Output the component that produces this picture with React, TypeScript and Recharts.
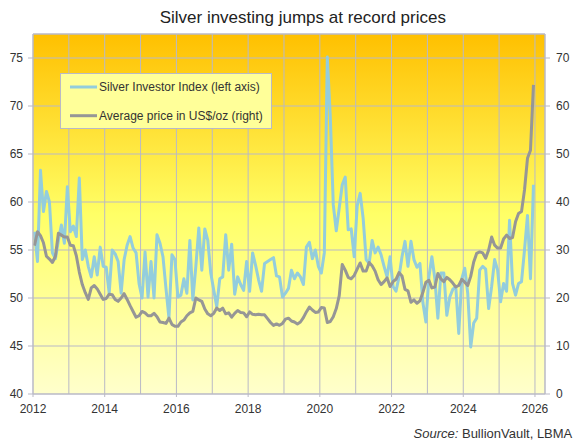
import React from 'react';
import { LineChart, Line, XAxis, YAxis, CartesianGrid, Legend, ReferenceLine } from 'recharts';

const TITLE = 'Silver investing jumps at record prices';
const SERIES_SII = 'Silver Investor Index (left axis)';
const SERIES_PRICE = 'Average price in US$/oz (right)';
const SOURCE_LABEL = 'Source:';
const SOURCE_TEXT = ' BullionVault, LBMA';

const START_YEAR = 2012;
const X_MAX = 2026.28;
const YEAR_TICKS = [2012, 2013, 2014, 2015, 2016, 2017, 2018, 2019, 2020, 2021, 2022, 2023, 2024, 2025, 2026];
const LEFT_TICKS = [40, 45, 50, 55, 60, 65, 70, 75];
const LEFT_DOMAIN = [40, 77.5];
const RIGHT_TICKS = [0, 10, 20, 30, 40, 50, 60, 70];
const RIGHT_DOMAIN = [0, 75];

// Silver Investor Index, monthly Jan 2012 - Dec 2025 (left axis)
const SII = [
  56.9, 53.8, 63.3, 59.0, 61.1, 60.0, 54.7, 54.1, 56.0, 57.6, 55.7, 61.6,
  56.9, 57.5, 56.4, 62.5, 54.0, 55.0, 53.3, 52.2, 54.3, 52.4, 55.3, 53.3,
  53.2, 50.5, 55.0, 54.6, 53.8, 50.5, 54.0, 55.5, 56.4, 55.2, 54.7, 51.5,
  50.0, 54.8, 50.1, 53.8, 50.0, 56.6, 55.7, 54.3, 51.0, 47.9, 54.5, 54.0,
  50.1, 50.3, 52.0, 50.5, 56.0, 49.8, 53.3, 57.3, 52.9, 57.2, 56.0, 52.6,
  50.8, 49.1, 52.0, 52.2, 56.6, 52.9, 55.6, 50.4, 52.2, 51.4, 50.8, 53.8,
  50.7, 54.7, 53.4, 51.9, 50.7, 53.6, 53.8, 54.0, 54.2, 52.3, 52.2, 50.1,
  50.5, 51.0, 52.9, 52.0, 52.6, 52.2, 51.4, 55.3, 55.8, 54.1, 55.0, 53.3,
  52.6, 54.7, 75.1, 68.9, 59.7, 57.0, 59.4, 61.8, 62.6, 57.1, 57.2, 54.3,
  59.6, 60.9, 58.3, 54.0, 53.6, 56.0, 54.7, 55.3, 54.5, 53.3, 52.2, 54.3,
  51.2, 50.7, 52.2, 54.3, 55.9, 53.3, 55.9, 54.0, 53.2, 53.6, 49.5, 47.5,
  52.2, 54.3, 52.0, 47.9, 52.6, 52.6, 48.2, 50.1, 50.9, 51.2, 46.3, 52.0,
  53.1, 50.5, 44.9, 47.4, 47.9, 52.9, 53.3, 53.0, 48.9, 51.2, 54.0, 52.9,
  49.6, 51.5, 50.7, 58.1, 51.5, 50.3, 51.5, 51.7, 55.0, 58.6, 52.0, 61.8,
];

// Average silver price, US$/oz, monthly Jan 2012 - Dec 2025 (right axis)
const PRICE = [
  30.9, 33.8, 33.0, 31.5, 28.7, 28.1, 27.4, 28.7, 33.5, 33.1, 32.7, 32.7,
  31.0, 30.9, 28.8, 25.4, 22.8, 21.1, 19.7, 22.1, 22.6, 21.9, 20.8, 19.7,
  19.9, 20.8, 20.7, 19.7, 19.3, 20.0, 20.9, 19.7, 18.4, 17.2, 16.0, 16.3,
  17.2, 16.9, 16.3, 16.3, 16.8, 16.1, 15.0, 14.9, 14.7, 15.8, 14.5, 14.1,
  14.1, 15.0, 15.4, 16.3, 16.9, 17.2, 20.0, 19.6, 19.3, 17.7, 16.7, 16.3,
  16.8, 17.9, 17.4, 17.9, 16.7, 16.9, 16.0, 16.8, 17.4, 17.0, 16.9, 16.1,
  17.1, 16.6, 16.5, 16.6, 16.5, 16.5, 15.7, 14.9, 14.3, 14.6, 14.3, 14.7,
  15.6, 15.8, 15.2, 15.0, 14.6, 15.0, 15.9, 17.1, 18.1, 17.5, 17.0, 17.1,
  18.0, 17.9, 14.9, 15.1, 16.1, 17.8, 20.5, 27.0, 25.8, 24.3, 24.0, 24.7,
  26.0, 27.3, 25.6, 25.6, 27.4, 26.7, 25.6, 23.8, 22.8, 23.4, 24.2, 22.4,
  23.4, 23.9, 25.3, 24.6, 21.8, 21.5, 19.1, 19.6, 18.9, 19.4, 21.2, 23.3,
  23.7, 22.1, 22.3, 25.1, 24.0, 23.4, 24.3, 23.8, 23.1, 22.3, 22.6, 23.9,
  23.3, 22.6, 24.5, 27.5, 29.3, 29.6, 29.4, 28.3, 30.0, 32.7, 31.0, 30.4,
  30.4, 32.3, 33.1, 32.4, 32.6, 35.9, 37.6, 38.0, 42.5, 49.1, 50.8, 64.4,
];

const W = 578;
const H = 442;
const BLUE = '#93CDDD';
const GRAY = '#969696';
const GRID = '#B9B9C6';
const TEXT = '#333333';
const FONT = '"Liberation Sans", Arial, Helvetica, sans-serif';

const data = SII.map((v, i) => ({ t: START_YEAR + (i + 0.5) / 12, sii: v, price: PRICE[i] }));

function YearTick(props: any) {
  const { x, y, payload } = props;
  const yr = payload.value;
  if (yr % 2 !== 0) return <g />;
  return (
    <g>
      <line x1={x} x2={x} y1={y - 10} y2={y - 7} stroke={GRID} strokeWidth={1} />
      <text x={x} y={y} dy="0.71em" textAnchor="middle" fontSize={12} fill={TEXT} fontFamily={FONT}>
        {yr}
      </text>
    </g>
  );
}

function LegendBox() {
  return (
    <div
      style={{
        width: 212,
        height: 56,
        boxSizing: 'border-box',
        border: `1px solid ${GRID}`,
        background: '#FFFF99',
      }}
    >
      <svg width={210} height={54} style={{ display: 'block' }}>
        <line x1={9} x2={36} y1={13} y2={13} stroke={BLUE} strokeWidth={3} />
        <text x={38} y={17} fontSize={12} fill={TEXT} fontFamily={FONT}>
          {SERIES_SII}
        </text>
        <line x1={9} x2={36} y1={41.7} y2={41.7} stroke={GRAY} strokeWidth={3} />
        <text x={38} y={45.7} fontSize={12} fill={TEXT} fontFamily={FONT}>
          {SERIES_PRICE}
        </text>
      </svg>
    </div>
  );
}

export default function App() {
  return (
    <div
      style={{
        position: 'absolute',
        left: 0,
        top: 0,
        width: W,
        height: H,
        background: '#ffffff',
        fontFamily: FONT,
      }}
    >
      <LineChart width={W} height={H} data={data} margin={{ top: 34, right: 0, bottom: 0, left: 0 }}>
        <defs>
          <linearGradient id="plotBg" x1="0" y1="0" x2="0" y2="1">
            <stop offset="0%" stopColor="#FFC000" />
            <stop offset="50%" stopColor="#FFFF66" />
            <stop offset="100%" stopColor="#FFFFCC" />
          </linearGradient>
        </defs>
        <CartesianGrid
          yAxisId="left"
          fill="url(#plotBg)"
          fillOpacity={1}
          stroke={GRID}
          strokeWidth={1}
        />
        <XAxis
          dataKey="t"
          type="number"
          domain={[START_YEAR, X_MAX]}
          ticks={YEAR_TICKS}
          interval={0}
          allowDataOverflow
          height={48}
          tickSize={3}
          tickMargin={7}
          tickLine={false}
          axisLine={{ stroke: GRID }}
          tick={<YearTick />}
        />
        <YAxis
          yAxisId="left"
          domain={LEFT_DOMAIN}
          ticks={LEFT_TICKS}
          allowDataOverflow
          width={33}
          tickSize={5}
          tickMargin={5}
          axisLine={{ stroke: GRID }}
          tickLine={{ stroke: GRID }}
          tick={{ fontSize: 12, fill: TEXT, fontFamily: FONT }}
        />
        <YAxis
          yAxisId="right"
          orientation="right"
          domain={RIGHT_DOMAIN}
          ticks={RIGHT_TICKS}
          allowDataOverflow
          width={33}
          tickSize={5}
          tickMargin={6}
          axisLine={{ stroke: GRID }}
          tickLine={{ stroke: GRID }}
          tick={{ fontSize: 12, fill: TEXT, fontFamily: FONT, textAnchor: 'start' }}
        />
        <ReferenceLine yAxisId="left" y={LEFT_DOMAIN[1]} stroke={GRID} strokeWidth={1} />
        <Line
          yAxisId="left"
          dataKey="sii"
          name={SERIES_SII}
          stroke={BLUE}
          strokeWidth={3}
          dot={false}
          strokeLinejoin="round"
          isAnimationActive={false}
        />
        <Line
          yAxisId="right"
          dataKey="price"
          name={SERIES_PRICE}
          stroke={GRAY}
          strokeWidth={3}
          dot={false}
          strokeLinejoin="round"
          isAnimationActive={false}
        />
        <Legend
          layout="vertical"
          align="center"
          verticalAlign="middle"
          wrapperStyle={{ left: 60, top: 73, width: 212, height: 56, lineHeight: 0 }}
          content={() => <LegendBox />}
        />
      </LineChart>
      <svg
        width={W}
        height={H}
        style={{ position: 'absolute', left: 0, top: 0, pointerEvents: 'none' }}
      >
        <text x={302.8} y={23.3} textAnchor="middle" fontSize={17} fill="#222" fontFamily={FONT}>
          {TITLE}
        </text>
        <text x={572.3} y={437.5} textAnchor="end" fontSize={13} fill={TEXT} fontFamily={FONT}>
          <tspan fontStyle="italic">{SOURCE_LABEL}</tspan>
          <tspan>{SOURCE_TEXT}</tspan>
        </text>
      </svg>
    </div>
  );
}
